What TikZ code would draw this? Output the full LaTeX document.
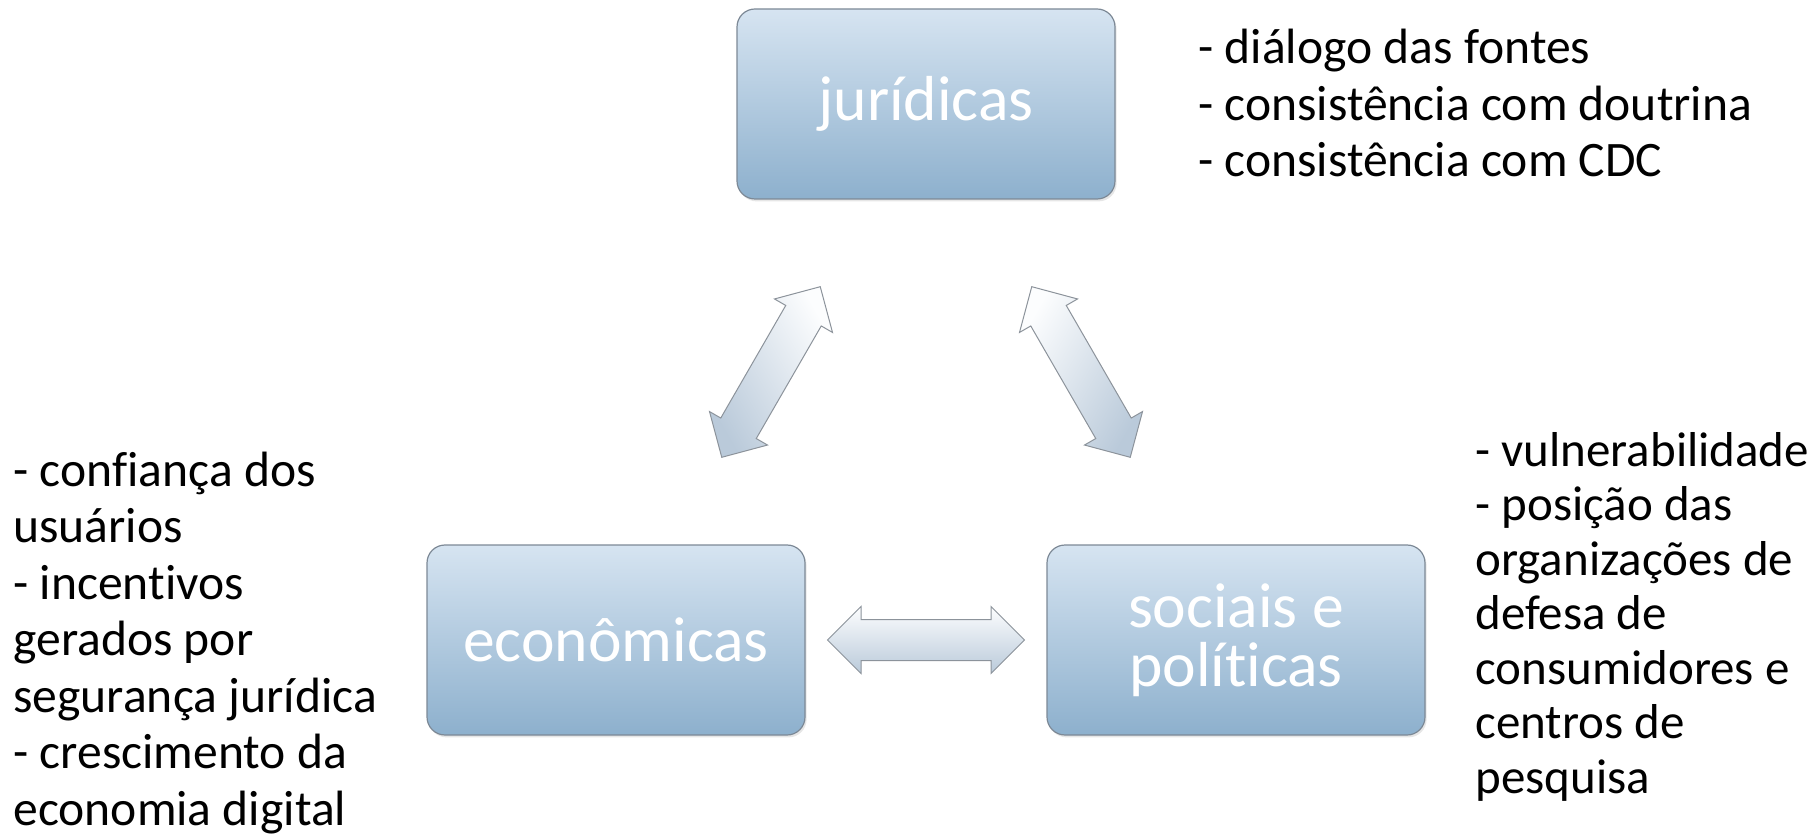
\documentclass[tikz,border=0pt]{standalone}
\usepackage{fontspec}
\setmainfont{Carlito}[Ligatures=NoCommon]
\usetikzlibrary{shapes.arrows,shadows,positioning,calc}
\definecolor{boxtop}{RGB}{214,228,241}
\definecolor{boxbot}{RGB}{141,176,205}
\definecolor{boxline}{RGB}{125,137,150}
\definecolor{arrtop}{RGB}{252,253,254}
\definecolor{arrbot}{RGB}{186,202,218}
\definecolor{arrline}{RGB}{140,147,155}
\tikzstyle{topic} = [rectangle, rounded corners=9pt, minimum width=189pt, minimum height=95pt, draw=boxline, line width=0.6pt, top color=boxtop, bottom color=boxbot, text=white, font=\fontsize{31.8}{29.5}\selectfont, align=center, drop shadow={opacity=0.2, shadow xshift=0.8pt, shadow yshift=-1.2pt}]
\tikzstyle{link} = [double arrow, double arrow head extend=6.5pt, inner xsep=0pt, inner ysep=10pt, minimum height=98.5pt, draw=arrline, line width=0.5pt, top color=arrtop, bottom color=arrbot]
\tikzstyle{notes} = [anchor=base west, align=left, inner sep=0pt, font=\fontsize{24.8}{28.25}\selectfont]

\begin{document}
\begin{tikzpicture}[x=0.5pt, y=-0.5pt]
\useasboundingbox (0,0) rectangle (1820,839);

% Boxes
\node[topic] (jur) at (926,104) {jurídicas};
\node[topic] (eco) at (616,640) {econômicas};
\node[topic] (soc) at (1236,640) {sociais e\\políticas};

% Arrows
\node[link, rotate=60, shading angle=-60] (aJE) at ($(eco)!0.5!(jur)$) {};
\node[link, rotate=-60, shading angle=60] (aJS) at ($(soc)!0.5!(jur)$) {};
\node[link] (aES) at ($(eco)!0.5!(soc)$) {};

% Notes (placed at the baseline of their last line)
\node[notes] (nJur) at (1198,177) {- diálogo das fontes\\- consistência com doutrina\\- consistência com CDC};
\node[notes] (nEco) at (13,825) {- confiança dos\\usuários\\- incentivos\\gerados por\\segurança jurídica\\- crescimento da\\economia digital};
\node[notes, font=\fontsize{24.5}{27.25}\selectfont] (nSoc) at (1475,793) {- vulnerabilidade\\- posição das\\organizações de\\defesa de\\consumidores e\\centros de\\pesquisa};
\end{tikzpicture}
\end{document}
